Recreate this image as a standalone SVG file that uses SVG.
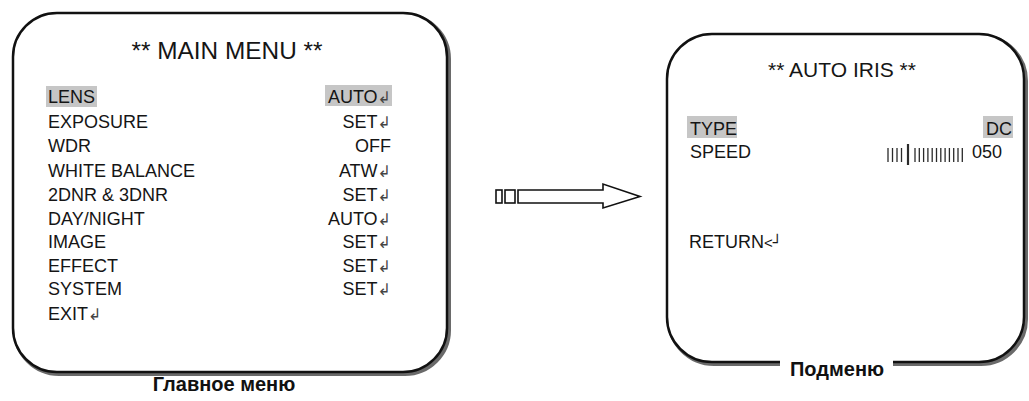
<svg xmlns="http://www.w3.org/2000/svg" width="1029" height="401" viewBox="0 0 1029 401">
<style>
  .frame { fill: #fff; stroke: #111; stroke-width: 2.5; }
  .shadow { fill: none; stroke: #6a6a6a; stroke-width: 4; }
  .title { font-family: "Liberation Sans", Arial, sans-serif; font-size: 21px; fill: #151515; text-anchor: middle; }
  .item { font-family: "Liberation Sans", Arial, sans-serif; font-size: 18px; fill: #151515; }
  .val { text-anchor: end; }
  .ret { font-family: "DejaVu Sans", sans-serif; font-size: 16px; fill: #444; }
  .hl { fill: #c6c6c6; }
  .cap { font-family: "Liberation Sans", Arial, sans-serif; font-size: 20px; font-weight: bold; fill: #111; text-anchor: middle; }
  .tick { stroke: #2a2a2a; stroke-width: 1.3; }
  .arrow { fill: #fff; stroke: #111; stroke-width: 1.6; }
</style>

<g id="main-menu">
  <rect class="shadow" x="15" y="15" width="434" height="359" rx="44"/>
  <rect class="frame" x="13" y="13" width="434" height="359" rx="44"/>
  <text class="title" x="227" y="59" style="font-size:23px" textLength="191" lengthAdjust="spacingAndGlyphs">** MAIN MENU **</text>
  <rect class="hl" x="46" y="86" width="51" height="21"/>
  <rect class="hl" x="325" y="85" width="67" height="21"/>
  <text class="item" x="48" y="103">LENS</text>
  <text class="item" x="48" y="128">EXPOSURE</text>
  <text class="item" x="48" y="152">WDR</text>
  <text class="item" x="48" y="177">WHITE BALANCE</text>
  <text class="item" x="48" y="201">2DNR &amp; 3DNR</text>
  <text class="item" x="48" y="225">DAY/NIGHT</text>
  <text class="item" x="48" y="248">IMAGE</text>
  <text class="item" x="48" y="272">EFFECT</text>
  <text class="item" x="48" y="295">SYSTEM</text>
  <text class="item" x="48" y="320">EXIT<tspan class="ret">↲</tspan></text>
  <text class="item val" x="391" y="103">AUTO<tspan class="ret">↲</tspan></text>
  <text class="item val" x="391" y="128">SET<tspan class="ret">↲</tspan></text>
  <text class="item val" x="391" y="152">OFF</text>
  <text class="item val" x="391" y="177">ATW<tspan class="ret">↲</tspan></text>
  <text class="item val" x="391" y="201">SET<tspan class="ret">↲</tspan></text>
  <text class="item val" x="391" y="225">AUTO<tspan class="ret">↲</tspan></text>
  <text class="item val" x="391" y="248">SET<tspan class="ret">↲</tspan></text>
  <text class="item val" x="391" y="272">SET<tspan class="ret">↲</tspan></text>
  <text class="item val" x="391" y="295">SET<tspan class="ret">↲</tspan></text>
  <text class="cap" x="224" y="391">Главное меню</text>
</g>

<g id="sub-menu">
  <rect class="shadow" x="669" y="36" width="357" height="328" rx="45"/>
  <rect class="frame" x="667" y="34" width="357" height="328" rx="45"/>
  <text class="title" x="842" y="77">** AUTO IRIS **</text>
  <rect class="hl" x="687" y="116" width="50" height="22"/>
  <rect class="hl" x="983" y="116" width="30" height="22"/>
  <text class="item" x="690" y="135">TYPE</text>
  <text class="item val" x="1012" y="135">DC</text>
  <text class="item" x="690" y="158">SPEED</text>
  <g id="speed-bar">
    <line class="tick" x1="888" y1="148" x2="888" y2="162"/>
    <line class="tick" x1="892.5" y1="148" x2="892.5" y2="162"/>
    <line class="tick" x1="897" y1="148" x2="897" y2="162"/>
    <line class="tick" x1="901.5" y1="148" x2="901.5" y2="162"/>
    <line class="tick" x1="908" y1="144" x2="908" y2="165" style="stroke-width:2.2"/>
    <line class="tick" x1="915" y1="148" x2="915" y2="162"/>
    <line class="tick" x1="919.3" y1="148" x2="919.3" y2="162"/>
    <line class="tick" x1="923.6" y1="148" x2="923.6" y2="162"/>
    <line class="tick" x1="927.9" y1="148" x2="927.9" y2="162"/>
    <line class="tick" x1="932.2" y1="148" x2="932.2" y2="162"/>
    <line class="tick" x1="936.5" y1="148" x2="936.5" y2="162"/>
    <line class="tick" x1="940.8" y1="148" x2="940.8" y2="162"/>
    <line class="tick" x1="945.1" y1="148" x2="945.1" y2="162"/>
    <line class="tick" x1="949.4" y1="148" x2="949.4" y2="162"/>
    <line class="tick" x1="953.7" y1="148" x2="953.7" y2="162"/>
    <line class="tick" x1="958" y1="148" x2="958" y2="162"/>
    <line class="tick" x1="962.3" y1="148" x2="962.3" y2="162"/>
  </g>
  <text class="item val" x="1002" y="158">050</text>
  <text class="item" x="689" y="248">RETURN<tspan style="font-size:15px">&lt;</tspan><tspan style="font-family:'DejaVu Sans',sans-serif;font-size:15px">┘</tspan></text>
  <rect x="780" y="354" width="113" height="16" fill="#fff"/>
  <text class="cap" x="837" y="376">Подменю</text>
</g>

<g id="connectors">
  <rect class="arrow" x="496" y="190" width="6" height="13"/>
  <rect class="arrow" x="505" y="190" width="10" height="13"/>
  <path class="arrow" d="M518,190 H603 V184 L640,196.5 L603,208 V203 H518 Z"/>
</g>
</svg>
